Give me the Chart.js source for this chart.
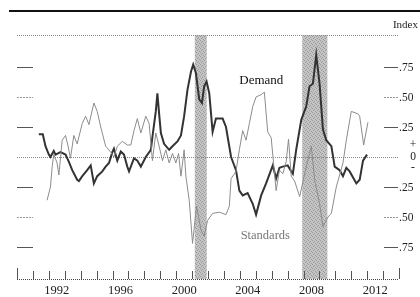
<!DOCTYPE html>
<html>
<head>
<meta charset="utf-8">
<script src="https://cdn.jsdelivr.net/npm/chart.js@4/dist/chart.umd.min.js"></script>
<style>
  html, body { margin: 0; padding: 0; background: #fff; }
  canvas { display: block; }
</style>
</head>
<body>
<canvas id="loanChart" width="420" height="297"></canvas>
<script>
// Values (decimal year, index value)
const demandYears = [1991.37, 1991.62, 1991.79, 1992.00, 1992.10, 1992.31, 1992.42, 1992.73, 1993.05, 1993.26,
    1993.47, 1993.78, 1993.89, 1994.10, 1994.41, 1994.63, 1994.83, 1995.04, 1995.36, 1995.57,
    1995.78, 1995.99, 1996.09, 1996.30, 1996.52, 1996.72, 1996.93, 1997.04, 1997.35, 1997.56,
    1997.78, 1998.09, 1998.41, 1998.51, 1998.72, 1998.82, 1998.93, 1999.04, 1999.24, 1999.56,
    1999.77, 2000.08, 2000.30, 2000.50, 2000.71, 2000.93, 2001.07, 2001.24, 2001.45, 2001.62,
    2001.76, 2001.91, 2002.08, 2002.29, 2002.50, 2002.92, 2003.13, 2003.45, 2003.76, 2003.97,
    2004.18, 2004.49, 2004.81, 2005.02, 2005.34, 2005.65, 2006.07, 2006.28, 2006.49, 2006.70,
    2007.01, 2007.23, 2007.33, 2007.54, 2007.86, 2008.17, 2008.38, 2008.59, 2008.80, 2009.01,
    2009.22, 2009.43, 2009.75, 2009.96, 2010.27, 2010.48, 2010.69, 2010.90, 2011.32, 2011.53,
    2011.74, 2011.99];
const demandValues = [0.19, 0.19, 0.09, 0.02, 0.00, 0.05, 0.02, 0.04, 0.02, -0.04,
    -0.11, -0.19, -0.20, -0.16, -0.11, -0.07, -0.22, -0.16, -0.12, -0.08,
    -0.05, 0.04, 0.07, -0.03, 0.045, 0.02, -0.08, -0.12, -0.01, -0.03,
    -0.08, 0.00, 0.06, 0.17, 0.38, 0.53, 0.36, 0.20, 0.11, 0.06,
    0.09, 0.13, 0.18, 0.34, 0.56, 0.71, 0.77, 0.70, 0.48, 0.45,
    0.59, 0.63, 0.53, 0.21, 0.32, 0.32, 0.25, 0.00, -0.11, -0.28,
    -0.32, -0.30, -0.39, -0.48, -0.32, -0.22, -0.07, -0.18, -0.09, -0.08,
    -0.07, -0.12, -0.14, 0.06, 0.31, 0.42, 0.59, 0.61, 0.85, 0.61,
    0.23, 0.14, 0.09, -0.08, -0.11, -0.16, -0.09, -0.12, -0.22, -0.19,
    -0.03, 0.02];

const standardsYears = [1991.89, 1992.10, 1992.21, 1992.31, 1992.52, 1992.63, 1992.84, 1993.05, 1993.21, 1993.36,
    1993.57, 1993.78, 1994.10, 1994.31, 1994.52, 1994.83, 1995.04, 1995.26, 1995.57, 1995.89,
    1996.09, 1996.30, 1996.62, 1996.93, 1997.15, 1997.35, 1997.56, 1997.78, 1998.09, 1998.30,
    1998.51, 1998.72, 1998.93, 1999.14, 1999.35, 1999.56, 1999.77, 1999.98, 2000.15, 2000.30,
    2000.50, 2000.61, 2000.82, 2001.03, 2001.28, 2001.56, 2001.76, 2001.97, 2002.29, 2002.71,
    2003.13, 2003.34, 2003.45, 2003.76, 2003.97, 2004.18, 2004.39, 2004.60, 2004.81, 2005.02,
    2005.34, 2005.54, 2005.75, 2005.97, 2006.18, 2006.28, 2006.49, 2006.70, 2006.91, 2007.06,
    2007.23, 2007.44, 2007.76, 2008.07, 2008.38, 2008.49, 2008.70, 2009.01, 2009.22, 2009.54,
    2009.75, 2010.06, 2010.48, 2010.69, 2011.00, 2011.42, 2011.53, 2011.78, 2012.05];
const standardsValues = [-0.36, -0.25, -0.08, 0.02, -0.05, -0.15, 0.14, 0.18, 0.09, -0.01,
    0.18, 0.11, 0.28, 0.34, 0.27, 0.45, 0.38, 0.25, 0.09, 0.04,
    0.00, 0.09, 0.13, 0.10, 0.10, 0.22, 0.32, 0.20, 0.34, 0.28,
    -0.03, 0.20, 0.09, -0.03, 0.06, -0.05, 0.03, -0.05, 0.03, -0.16,
    0.06, -0.16, -0.36, -0.72, -0.41, -0.61, -0.66, -0.53, -0.47, -0.46,
    -0.48, -0.41, -0.18, -0.12, 0.06, 0.22, 0.14, 0.28, 0.42, 0.50,
    0.52, 0.54, 0.21, 0.16, -0.14, -0.28, -0.11, -0.14, -0.04, 0.15,
    -0.16, -0.20, -0.33, -0.14, 0.03, 0.09, -0.19, -0.39, -0.58, -0.50,
    -0.47, -0.25, -0.05, 0.14, 0.38, 0.36, 0.34, 0.10, 0.29];

// Recession bands (start, end)
const recessionStarts = [2001.17, 2007.92];
const recessionEnds = [2001.92, 2009.50];

// Axis ticks
const yearTicks = [1990, 1991, 1992, 1993, 1994, 1995, 1996, 1997, 1998, 1999, 2000, 2001,
    2002, 2003, 2004, 2005, 2006, 2007, 2008, 2009, 2010, 2011, 2012, 2013, 2014];
const yearLabels = ['1992', '1996', '2000', '2004', '2008', '2012'];
const valueTicks = [0.75, 0.50, 0.25, -0.25, -0.50, -0.75];
const valueTickLabels = ['.75', '.50', '.25', '.25', '.50', '.75'];

function toPoints(xs, ys) {
    return xs.map((x, i) => ({ x: x, y: ys[i] }));
}

// stippled gray for the recession bars
function makeStipple() {
    const c = document.createElement('canvas');
    c.width = 4; c.height = 4;
    const g = c.getContext('2d');
    g.fillStyle = '#c4c4c4';
    g.fillRect(0, 0, 4, 4);
    g.fillStyle = '#9a9a9a';
    g.fillRect(0, 0, 1, 1); g.fillRect(2, 1, 1, 1);
    g.fillRect(1, 2, 1, 1); g.fillRect(3, 3, 1, 1);
    return c;
}

const serif = '"Liberation Serif", "DejaVu Serif", serif';

const decorations = {
    id: 'decorations',
    beforeDatasetsDraw(chart) {
        const ctx = chart.ctx;
        const xs = chart.scales.x, ys = chart.scales.y;
        const area = chart.chartArea;
        ctx.save();
        // recession shading
        ctx.fillStyle = ctx.createPattern(makeStipple(), 'repeat');
        recessionStarts.forEach((s, i) => {
            const x0 = xs.getPixelForValue(s);
            const x1 = xs.getPixelForValue(recessionEnds[i]);
            ctx.fillRect(x0, area.top, x1 - x0, area.bottom - area.top);
        });
        // top rule and plot frame
        ctx.fillStyle = '#111';
        ctx.fillRect(9, 10, 411, 2);
        ctx.strokeStyle = '#888';
        ctx.lineWidth = 1;
        ctx.setLineDash([1, 1]);
        ctx.beginPath();
        ctx.moveTo(area.left, area.top + 0.5);
        ctx.lineTo(area.right, area.top + 0.5);
        const y0 = Math.round(ys.getPixelForValue(0)) + 0.5;
        ctx.moveTo(area.left, y0);
        ctx.lineTo(area.right, y0);
        ctx.stroke();
        ctx.strokeStyle = '#444';
        ctx.beginPath();
        ctx.moveTo(area.left, area.bottom + 0.5);
        ctx.lineTo(area.right, area.bottom + 0.5);
        ctx.stroke();
        ctx.setLineDash([]);
        // value ticks left and right
        valueTicks.forEach(v => {
            const y = Math.round(ys.getPixelForValue(v)) + 0.5;
            ctx.strokeStyle = Math.abs(v) === 0.5 ? '#999' : '#555';
            ctx.setLineDash(Math.abs(v) === 0.5 ? [2, 1] : []);
            ctx.beginPath();
            ctx.moveTo(area.left, y); ctx.lineTo(area.left + 16, y);
            ctx.moveTo(area.right - 15, y); ctx.lineTo(area.right - 1, y);
            ctx.stroke();
        });
        ctx.setLineDash([]);
        // year ticks
        ctx.strokeStyle = '#555';
        yearTicks.forEach((yr, i) => {
            const x = Math.round(xs.getPixelForValue(yr)) + 0.5;
            const len = (i === 0 || i === yearTicks.length - 1) ? 11 : 8;
            ctx.beginPath();
            ctx.moveTo(x, area.bottom);
            ctx.lineTo(x, area.bottom - len);
            ctx.stroke();
        });
        ctx.restore();
    },
    afterDatasetsDraw(chart) {
        const ctx = chart.ctx;
        const xs = chart.scales.x, ys = chart.scales.y;
        const area = chart.chartArea;
        ctx.save();
        ctx.fillStyle = '#222';
        ctx.font = '12.5px ' + serif;
        ctx.textAlign = 'center';
        ctx.textBaseline = 'middle';
        yearLabels.forEach(l => {
            ctx.fillText(l, xs.getPixelForValue(parseInt(l) + 0.5), 291);
        });
        ctx.font = '11.5px ' + serif;
        ctx.textAlign = 'left';
        valueTicks.forEach((v, i) => {
            ctx.fillText(valueTickLabels[i], area.right, ys.getPixelForValue(v) + 0.5);
        });
        ctx.textAlign = 'center';
        const zy = ys.getPixelForValue(0);
        ctx.fillText('+', 413, zy - 12);
        ctx.fillText('0', 413, zy);
        ctx.fillText('-', 413, zy + 10);
        ctx.font = '11px ' + serif;
        ctx.textAlign = 'right';
        ctx.fillText('Index', 418, 25);
        // series labels
        ctx.textAlign = 'center';
        ctx.font = '13px ' + serif;
        ctx.fillStyle = '#111';
        ctx.fillText('Demand', xs.getPixelForValue(2005.35), ys.getPixelForValue(0.64));
        ctx.font = '12.5px ' + serif;
        ctx.fillStyle = '#777';
        ctx.fillText('Standards', xs.getPixelForValue(2005.6), ys.getPixelForValue(-0.66));
        ctx.restore();
    }
};

new Chart(document.getElementById('loanChart'), {
    type: 'line',
    data: {
        datasets: [
            {
                label: 'Standards',
                data: toPoints(standardsYears, standardsValues),
                borderColor: '#8c8c8c',
                borderWidth: 1,
                pointRadius: 0,
                tension: 0,
                fill: false
            },
            {
                label: 'Demand',
                data: toPoints(demandYears, demandValues),
                borderColor: '#333',
                borderWidth: 2,
                pointRadius: 0,
                tension: 0,
                fill: false
            }
        ]
    },
    options: {
        responsive: false,
        animation: false,
        layout: { padding: { left: 17, right: 21, top: 35, bottom: 18 } },
        scales: {
            x: { type: 'linear', min: 1990, max: 2014, display: false },
            y: { min: -1.0167, max: 1.0167, display: false }
        },
        plugins: {
            legend: { display: false },
            tooltip: { enabled: false }
        }
    },
    plugins: [decorations]
});
</script>
</body>
</html>
